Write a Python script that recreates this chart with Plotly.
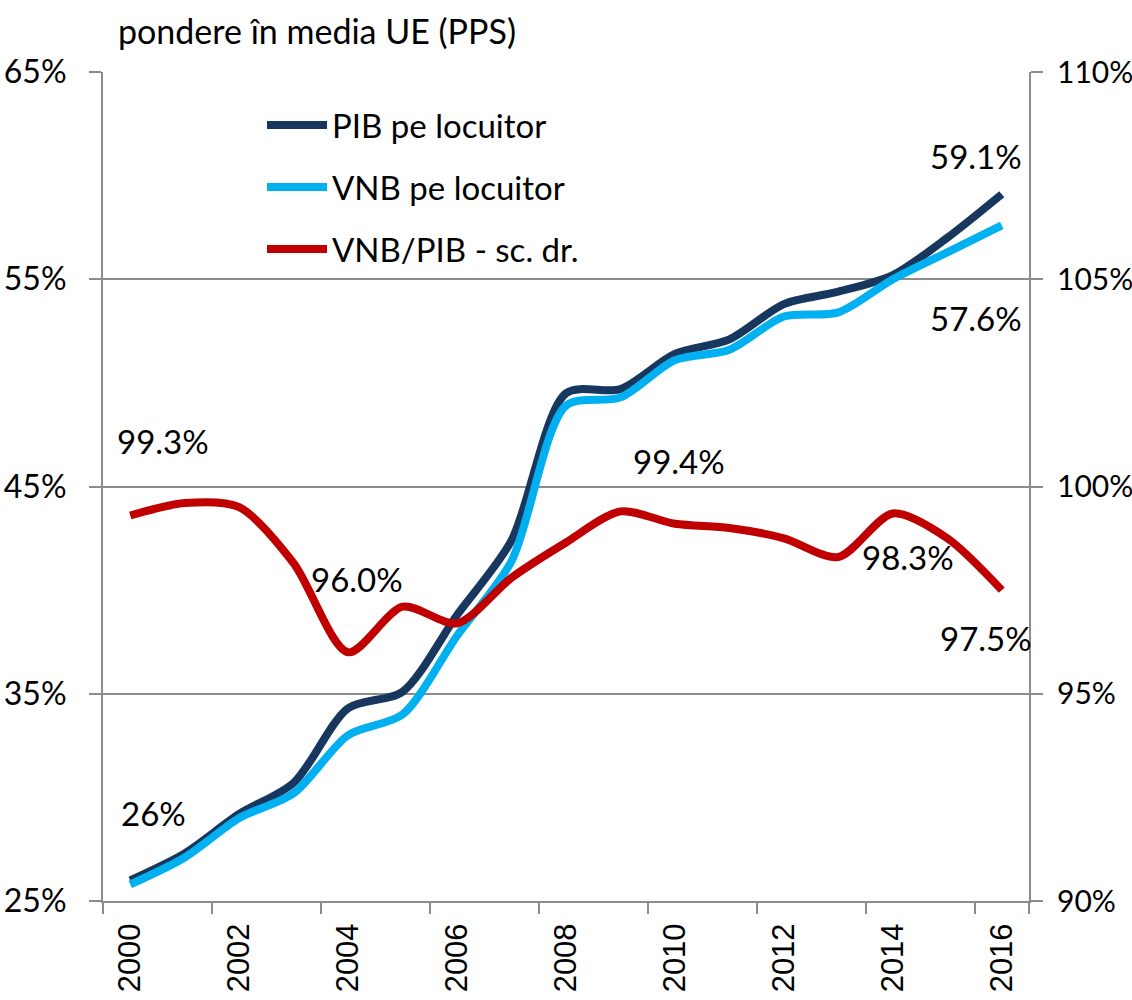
import plotly.graph_objects as go

years = list(range(2000, 2017))
pib = [26.0, 27.3, 29.2, 30.7, 34.3, 35.1, 38.8, 42.4, 49.5, 49.7, 51.4, 52.1, 53.8, 54.4, 55.2, 57.0, 59.1]
vnb = [25.8, 27.1, 29.0, 30.2, 33.0, 34.0, 37.8, 41.4, 48.9, 49.3, 51.1, 51.6, 53.2, 53.4, 55.0, 56.3, 57.6]
ratio = [99.3, 99.6, 99.5, 98.15, 96.0, 97.1, 96.7, 97.8, 98.65, 99.4, 99.1, 99.0, 98.75, 98.3, 99.35, 98.75, 97.5]

x_tick_years = list(range(2000, 2017, 2))
left_ticks = [25, 35, 45, 55, 65]
right_ticks = [90, 95, 100, 105, 110]

FONT = "Lato"
NAVY = "#17375E"
LBLUE = "#00B0F0"
RED = "#C00000"
GRID = "#8C8C8C"
FS = 33

W, H = 1132, 1000
L, R, T, B = 103, 103, 72, 99
pw, ph = W - L - R, H - T - B


def px(xp):
    return (xp - L) / pw


def py(yp):
    return (H - B - yp) / ph


fig = go.Figure()
fig.add_trace(go.Scatter(x=years, y=pib, mode="lines", name="PIB pe locuitor", showlegend=True,
                         line=dict(color=NAVY, width=8, shape="spline", smoothing=0.8), legend="legend"))
fig.add_trace(go.Scatter(x=years, y=vnb, mode="lines", name="VNB pe locuitor", showlegend=True,
                         line=dict(color=LBLUE, width=8, shape="spline", smoothing=0.8), legend="legend2"))
fig.add_trace(go.Scatter(x=years, y=ratio, mode="lines", name="VNB/PIB - sc. dr.", yaxis="y2", showlegend=True,
                         line=dict(color=RED, width=8, shape="spline", smoothing=0.8), legend="legend3"))

ann_font = dict(family=FONT, size=FS, color="#000000")
labels = [
    (years[-1], pib[-1], "y", f"{pib[-1]:.1f}%", -26, 38),
    (years[-1], vnb[-1], "y", f"{vnb[-1]:.1f}%", -26, -93),
    (years[0], pib[0], "y", f"{pib[0]:.0f}%", 23, 67),
    (years[0], ratio[0], "y2", f"{ratio[0]:.1f}%", 33, 75),
    (years[4], ratio[4], "y2", f"{ratio[4]:.1f}%", 9, 73),
    (years[9], ratio[9], "y2", f"{ratio[9]:.1f}%", 59, 50),
    (years[13], ratio[13], "y2", f"{ratio[13]:.1f}%", 70, 0),
    (years[16], ratio[16], "y2", f"{ratio[16]:.1f}%", -16, -48),
]
for xv, yv, yref, txt, xs, ys in labels:
    fig.add_annotation(x=xv, y=yv, xref="x", yref=yref, text=txt, showarrow=False,
                       xshift=xs, yshift=ys, font=ann_font)

fig.add_annotation(x=px(116), y=py(30), xref="paper", yref="paper", text="pondere în media UE (PPS)",
                   showarrow=False, xanchor="left", yanchor="middle", font=dict(family=FONT, size=34))

leg_common = dict(font=dict(family=FONT, size=FS, color="#000000"), bgcolor="rgba(0,0,0,0)",
                  xanchor="left", yanchor="middle", itemwidth=60)
fig.update_layout(
    width=W, height=H,
    margin=dict(l=L, r=R, t=T, b=B, autoexpand=False),
    paper_bgcolor="white", plot_bgcolor="white",
    font=dict(family=FONT, size=FS, color="#000000"),
    legend=dict(x=px(262), y=py(125), **leg_common),
    legend2=dict(x=px(262), y=py(187), **leg_common),
    legend3=dict(x=px(262), y=py(249), **leg_common),
    xaxis=dict(range=[1999.5, 2016.5], tickvals=x_tick_years, ticktext=[str(v) for v in x_tick_years],
               tickangle=-90, ticks="", showgrid=False, zeroline=False, automargin=False,
               showline=True, linecolor=GRID, linewidth=2, ticklabelstandoff=8,
               tickfont=dict(family="Liberation Sans", size=31),
               minor=dict(tickvals=[y - 0.5 for y in x_tick_years] + [2016.5], ticks="outside",
                          ticklen=11, tickcolor=GRID, tickwidth=2, showgrid=False)),
    yaxis=dict(range=[25, 65], tickvals=left_ticks, ticktext=[f"{v}%" for v in left_ticks],
               ticks="outside", ticklen=12, tickcolor=GRID, tickwidth=2, automargin=False,
               showgrid=True, gridcolor=GRID, gridwidth=2, zeroline=False,
               showline=True, linecolor=GRID, linewidth=2, ticklabelstandoff=16,
               tickfont=dict(family=FONT, size=32)),
    yaxis2=dict(range=[90, 110], tickvals=right_ticks, ticktext=[f"{v}%" for v in right_ticks],
                overlaying="y", side="right", automargin=False,
                ticks="outside", ticklen=12, tickcolor=GRID, tickwidth=2,
                showgrid=False, zeroline=False,
                showline=True, linecolor=GRID, linewidth=2, ticklabelstandoff=8,
                tickfont=dict(family=FONT, size=30)),
)

fig.write_html("out.html", config={"displayModeBar": False},
               post_script="document.body.style.margin='0';")
